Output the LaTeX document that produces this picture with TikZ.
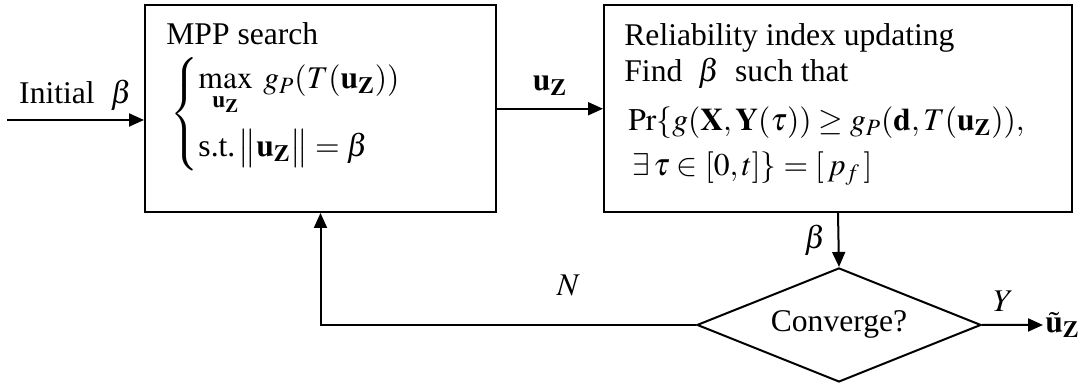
\documentclass[tikz,border=0pt]{standalone}
\usepackage{amsmath}
\usepackage{mathptmx}
\usepackage{fontspec}
\setmainfont{Liberation Serif}
\usetikzlibrary{shapes.geometric,arrows.meta}

\newcommand{\uz}{\mathbf{u}_{\mathbf{Z}}}

\begin{document}
\begin{tikzpicture}[x=0.5pt,y=-0.5pt,node distance=258.75pt,
  font=\fontsize{15.8pt}{18pt}\selectfont,
  procbox/.style={draw,line width=1pt,minimum width=175.5pt,minimum height=103.25pt,inner sep=0pt},
  decision/.style={draw,diamond,line width=1pt,aspect=2.5,minimum width=142pt,minimum height=57pt,inner sep=0pt},
  boxline/.style={anchor=base west,inner sep=0pt},
  lbl/.style={inner sep=1pt},
  arr/.style={-{Triangle[length=7.5pt,width=6.5pt]},line width=1pt}]
  \useasboundingbox (0,0) rectangle (1078,383);
  % boxes
  \node[procbox] (mpp) at (320.5,108.75) {};
  \node[procbox,minimum width=234pt] (rel) [right of=mpp] {};
  \node[decision] (conv) [below of=rel,node distance=108.1pt,xshift=0.5pt] {Converge?};
  % box texts
  \node[boxline] (mpptitle) at (166,45) {MPP search};
  \node[anchor=west,inner sep=0pt] (mppeq) at (170,114)
    {$\begin{cases}\max\limits_{\uz}\; g_P(T(\uz))\\[12.5pt]
      \text{s.t.}\,\bigl\|\uz\bigr\|=\beta\end{cases}$};
  \node[boxline] (rela) at (624,46) {Reliability index updating};
  \node[boxline] (relb) at (624,82) {Find~~$\beta$~~such that};
  \node[boxline] (relc) at (628,131) {$\Pr\{g(\mathbf{X},\mathbf{Y}(\tau))\geq g_P(\mathbf{d},T(\uz)),$};
  \node[boxline] (reld) at (632,176) {$\exists\,\tau\in[0,t]\}=[\,p_f\,]$};
  % connectors
  \coordinate (start) at (7,120);
  \node[anchor=west,inner sep=1pt] (out) at (1043,325) {$\tilde{\mathbf{u}}_{\mathbf{Z}}$};
  \draw[arr] (start) -- node[lbl,above=3pt] (initlbl) {Initial~~$\beta$} (start -| mpp.west);
  \draw[arr] (mpp.east) -- node[lbl,above=5pt] (uzlbl) {$\uz$} (rel.west);
  \draw[arr] (rel.south) -- node[lbl,left=5pt] (betalbl) {$\beta$} (conv.north);
  \draw[arr] (conv.west) -| node[lbl,pos=0.17,above=13pt] (nlbl) {$N$} (mpp.south);
  \draw[arr] (conv.east) -- node[lbl,pos=0.35,above=5pt] (ylbl) {$Y$} (out.west);
\end{tikzpicture}
\end{document}
